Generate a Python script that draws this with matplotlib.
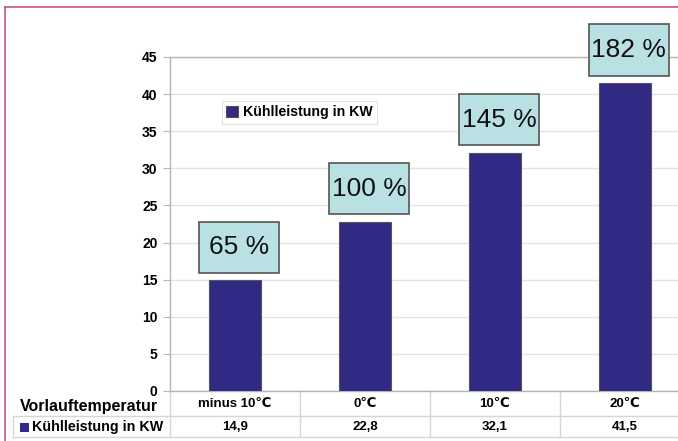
"""
Kühlleistung je Vorlauftemperatur – Säulendiagramm mit Datentabelle.
"""
import matplotlib
matplotlib.use("Agg")
import matplotlib.pyplot as plt
from matplotlib.lines import Line2D
from matplotlib.patches import Rectangle
from matplotlib.transforms import blended_transform_factory

plt.rcParams.update({
    "font.family": ["Liberation Sans", "DejaVu Sans"],
    "axes.unicode_minus": False,
})

# ─── Daten ────────────────────────────────────────────────
categories = ["minus 10\u2103", "0\u2103", "10\u2103", "20\u2103"]
values = [14.9, 22.8, 32.1, 41.5]
value_labels = ["14,9", "22,8", "32,1", "41,5"]
percent_labels = ["65 %", "100 %", "145 %", "182 %"]
y_ticks = [0, 5, 10, 15, 20, 25, 30, 35, 40, 45]
series_name = "Kühlleistung in KW"
row_title = "Vorlauftemperatur"

BAR = "#302a84"
BOX = "#b9e1e4"
GRID = "#e4e4e4"
AXIS = "#b4b4b4"
TABLE = "#d6d6d6"
FRAME = "#c8566e"

W, H = 678, 441
fig = plt.figure(figsize=(W / 100, H / 100), dpi=100)

# Plotbereich (rechts abgeschnitten wie im Original)
ax = fig.add_axes([170 / W, (H - 391) / H, 520 / W, 334 / H])
x = list(range(len(categories)))
ax.bar(x, values, width=0.4, color=BAR, edgecolor="#555555", linewidth=0.8,
       label=series_name, zorder=3)
ax.set_xlim(-0.5, len(categories) - 0.5)
ax.set_ylim(0, 45)
ax.set_yticks(y_ticks)
ax.set_yticklabels([str(t) for t in y_ticks], fontsize=10, fontweight="bold")
ax.tick_params(axis="y", length=5, color=AXIS, pad=4)
ax.set_xticks([])
ax.grid(True, axis="y", color=GRID, linewidth=1, zorder=0)
for s in ["left", "top", "bottom"]:
    ax.spines[s].set_color(AXIS)
    ax.spines[s].set_linewidth(1)
ax.spines["right"].set_visible(False)

# Prozent-Kästchen über den Säulen
box_w, box_h, gap = 0.62, 6.9, 1.0
for xi, v, lab in zip(x, values, percent_labels):
    y0 = v + gap
    ax.add_patch(Rectangle((xi + 0.03 - box_w / 2, y0), box_w, box_h,
                           facecolor=BOX, edgecolor="#555555", linewidth=1.2,
                           clip_on=False, zorder=4))
    ax.text(xi + 0.03, y0 + box_h / 2, lab, ha="center", va="center",
            fontsize=19, color="#111111", clip_on=False, zorder=5)

# Legende
leg = ax.legend(loc="upper left", bbox_to_anchor=(0.1, 0.868), frameon=True,
                fancybox=False, edgecolor="#dddddd",
                prop={"weight": "bold", "size": 10.2},
                handlelength=0.8, handleheight=0.8, handletextpad=0.4,
                borderpad=0.3, borderaxespad=0)
leg.get_frame().set_linewidth(0.8)

# ─── Datentabelle unter der Achse ─────────────────────────
px = 1 / 334  # Pixel in Achsen-y
trans = blended_transform_factory(ax.transData, ax.transAxes)
row1_y = -13 * px
row2_y = -36 * px
line_y = -25 * px
bottom_y = -46 * px

for i, (cat, val) in enumerate(zip(categories, value_labels)):
    ax.text(i, row1_y, cat, transform=trans, ha="center", va="center",
            fontsize=9.5, fontweight="bold", clip_on=False)
    ax.text(i, row2_y, val, transform=trans, ha="center", va="center",
            fontsize=9.5, fontweight="bold", clip_on=False)
    ax.add_line(Line2D([i - 0.5, i - 0.5], [0, bottom_y], transform=trans,
                       color=TABLE, linewidth=1, clip_on=False))

left_edge = -157 / 130 - 0.5
for yy in (line_y, bottom_y):
    ax.add_line(Line2D([left_edge, 4], [yy, yy], transform=trans,
                       color=TABLE, linewidth=1, clip_on=False))
ax.add_line(Line2D([left_edge] * 2, [line_y, bottom_y], transform=trans,
                   color=TABLE, linewidth=1, clip_on=False))

ax.text(-12 / 520, -15 * px, row_title, transform=ax.transAxes, ha="right",
        va="center", fontsize=11.5, fontweight="bold", clip_on=False)
ax.add_patch(Rectangle((-150 / 520, row2_y - 4.5 * px), 9 / 520, 9 * px,
                       transform=ax.transAxes, facecolor=BAR, edgecolor="none",
                       clip_on=False))
ax.text(-138 / 520, row2_y, series_name, transform=ax.transAxes, ha="left",
        va="center", fontsize=10.3, fontweight="bold", clip_on=False)

# Roter Rahmen (rechts/unten abgeschnitten)
fig.add_artist(Line2D([5 / W, 1.0], [1 - 7 / H, 1 - 7 / H], color=FRAME, linewidth=1.2))
fig.add_artist(Line2D([5 / W, 5 / W], [0, 1 - 7 / H], color=FRAME, linewidth=1.2))

fig.savefig("out.png", dpi=100)
